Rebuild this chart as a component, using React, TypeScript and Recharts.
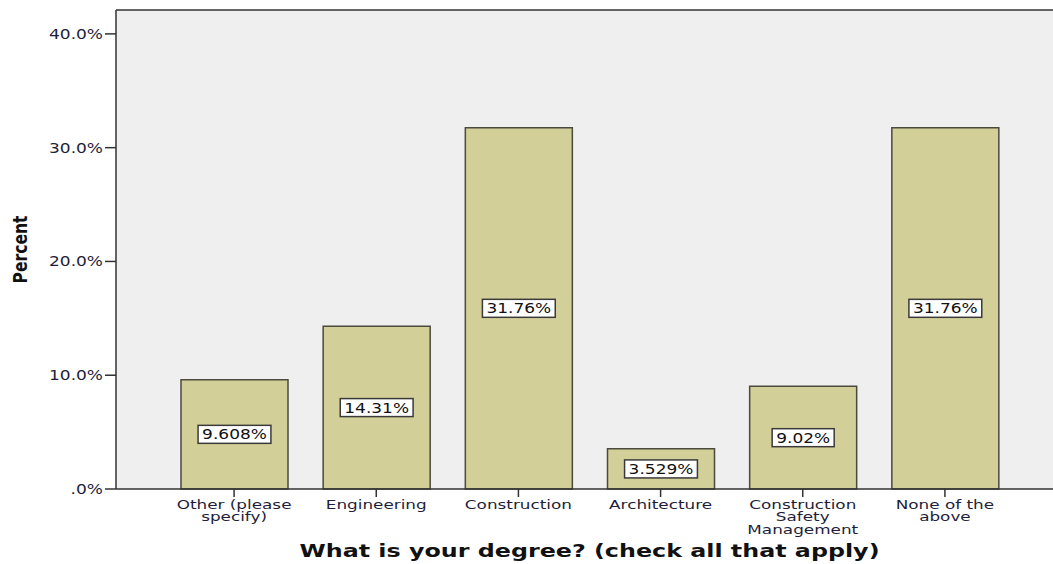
import React from 'react';
import { BarChart, Bar, XAxis, YAxis, CartesianGrid, ReferenceLine, LabelList } from 'recharts';

const categories = ['Other (please specify)', 'Engineering', 'Construction', 'Architecture', 'Construction Safety Management', 'None of the above'];
const categoryLines = [['Other (please', 'specify)'], ['Engineering'], ['Construction'], ['Architecture'], ['Construction', 'Safety', 'Management'], ['None of the', 'above']];
const percents = [9.608, 14.31, 31.76, 3.529, 9.02, 31.76];
const percentLabels = ['9.608%', '14.31%', '31.76%', '3.529%', '9.02%', '31.76%'];
const yTicks = [0, 10, 20, 30, 40];
const yTickLabels = ['.0%', '10.0%', '20.0%', '30.0%', '40.0%'];

const data = categories.map((c, i) => ({ category: c, percent: percents[i], label: percentLabels[i] }));

const FONT = 'DejaVu Sans, Verdana, sans-serif';
const STRETCH = 'scale(1.26,1)';
const TEXT_COLOR = '#1e1e3a';

// rough glyph widths (em) for the value boxes
const charWidth = (ch: string) => (ch === '.' ? 0.318 : ch === '%' ? 0.95 : 0.636);

const CategoryTick = (props: any) => {
    const { x, y, payload } = props;
    const idx = categories.indexOf(payload.value);
    const lines = categoryLines[idx] || [payload.value];
    return (
        <g transform={`translate(${x},${y})`}>
            <text textAnchor="middle" fontFamily={FONT} fontSize={12.2} fill={TEXT_COLOR} transform="scale(1.38,1)">
                {lines.map((l, i) => (
                    <tspan key={i} x={0} dy={i === 0 ? 10 : 12.5}>{l}</tspan>
                ))}
            </text>
        </g>
    );
};

const PercentTick = (props: any) => {
    const { x, y, payload } = props;
    const idx = yTicks.indexOf(payload.value);
    return (
        <g transform={`translate(${x},${y})`}>
            <text textAnchor="end" dy={5} fontFamily={FONT} fontSize={13.5} fill={TEXT_COLOR} transform={STRETCH}>
                {yTickLabels[idx]}
            </text>
        </g>
    );
};

const ValueBox = (props: any) => {
    const { x, y, width, height, index } = props;
    const text = percentLabels[index];
    const fs = 13.5;
    const w = text.split('').reduce((s, ch) => s + charWidth(ch), 0) * fs * 1.26 + 8;
    const h = 18;
    const cx = x + width / 2;
    const cy = y + height / 2;
    return (
        <g>
            <rect x={cx - w / 2} y={cy - h / 2} width={w} height={h} fill="#ffffff" stroke="#3a3a3a" strokeWidth={1.5} />
            <g transform={`translate(${cx},${cy})`}>
                <text textAnchor="middle" dy={5} fontFamily={FONT} fontSize={fs} fill="#111" transform={STRETCH}>
                    {text}
                </text>
            </g>
        </g>
    );
};

const XTitle = (props: any) => {
    const vb = props.viewBox;
    return (
        <text
            x={vb.x + vb.width / 2}
            y={vb.y + 68}
            textAnchor="middle"
            fontFamily={FONT}
            fontWeight="bold"
            fontSize={18}
            fill="#111"
            textLength={580}
            lengthAdjust="spacingAndGlyphs"
        >
            What is your degree? (check all that apply)
        </text>
    );
};

const YTitle = (props: any) => {
    const vb = props.viewBox;
    const cx = 27;
    const cy = vb.y + vb.height / 2;
    return (
        <text
            x={cx}
            y={cy}
            textAnchor="middle"
            transform={`rotate(-90, ${cx}, ${cy})`}
            fontFamily="DejaVu Sans Condensed, DejaVu Sans, sans-serif"
            fontWeight="bold"
            fontSize={19}
            fill="#111"
            textLength={68}
            lengthAdjust="spacingAndGlyphs"
        >
            Percent
        </text>
    );
};

export default function App() {
    return (
        <div style={{ position: 'absolute', left: 0, top: 0, width: 1053, height: 564, overflow: 'hidden', background: '#fff' }}>
            <BarChart width={1070} height={564} data={data} margin={{ top: 10, right: 7, left: 0, bottom: 0 }}>
                <CartesianGrid horizontal={false} vertical={false} fill="#efefef" />
                <ReferenceLine y={42.1} stroke="#333" strokeWidth={1.5} />
                <XAxis
                    dataKey="category"
                    padding={{ left: 47, right: 47 }}
                    height={75}
                    tickSize={8}
                    axisLine={{ stroke: '#333', strokeWidth: 1.5 }}
                    tickLine={{ stroke: '#333', strokeWidth: 1.5 }}
                    tick={<CategoryTick />}
                    interval={0}
                    label={<XTitle />}
                />
                <YAxis
                    width={116}
                    domain={[0, 42.1]}
                    ticks={yTicks}
                    tickSize={11}
                    axisLine={{ stroke: '#333', strokeWidth: 1.5 }}
                    tickLine={{ stroke: '#333', strokeWidth: 1.5 }}
                    tick={<PercentTick />}
                    label={<YTitle />}
                />
                <Bar dataKey="percent" fill="#d3cf98" stroke="#4a4a3e" strokeWidth={1.5} barSize={107} isAnimationActive={false}>
                    <LabelList dataKey="label" content={<ValueBox />} />
                </Bar>
            </BarChart>
        </div>
    );
}
